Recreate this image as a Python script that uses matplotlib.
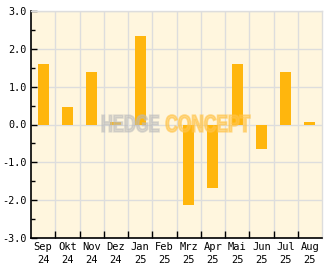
import matplotlib
matplotlib.use("Agg")
import matplotlib.pyplot as plt
from matplotlib.ticker import MultipleLocator, FixedLocator
from matplotlib.textpath import TextPath
from matplotlib.patches import PathPatch
from matplotlib.font_manager import FontProperties
from matplotlib.transforms import Affine2D, IdentityTransform
import numpy as np

# monthly values
months = ["Sep\n24", "Okt\n24", "Nov\n24", "Dez\n24", "Jan\n25", "Feb\n25",
          "Mrz\n25", "Apr\n25", "Mai\n25", "Jun\n25", "Jul\n25", "Aug\n25"]
values = [1.60, 0.46, 1.39, 0.07, 2.34, 0.0,
          -2.13, -1.67, 1.60, -0.64, 1.39, 0.07]

bar_color = "#FFB60D"
bg_color = "#FFF6DE"
grid_color = "#DDDDDD"

fig = plt.figure(figsize=(3.32, 2.69), dpi=100)
ax = fig.add_axes([31 / 332, 31 / 269, 291 / 332, 227 / 269])
ax.set_facecolor(bg_color)

x = np.arange(len(months))
ax.bar(x, values, width=0.45, color=bar_color, zorder=3)

ax.set_xlim(-0.5, len(months) - 0.5)
ax.set_ylim(-3, 3)

# x: labels at centers, ticks/grid at boundaries
ax.set_xticks(x)
ax.set_xticklabels(months, family="DejaVu Sans Mono", fontsize=7.5, linespacing=1.3)
ax.xaxis.set_minor_locator(FixedLocator(np.arange(0.5, len(months) - 0.5, 1)))
ax.tick_params(axis="x", which="major", length=0, pad=3)
ax.tick_params(axis="x", which="minor", direction="in", length=5, width=1, color="black")

ax.yaxis.set_minor_locator(MultipleLocator(0.5))
ax.set_yticks(np.arange(-3, 3.1, 1))
ax.set_yticklabels(["%.1f" % v for v in np.arange(-3, 3.1, 1)],
                   family="DejaVu Sans Mono", fontsize=7.3)
ax.tick_params(axis="y", which="major", direction="in", length=4, width=1, pad=3)
ax.tick_params(axis="y", which="minor", direction="in", length=3, width=1)

ax.grid(True, which="major", axis="y", color=grid_color, linewidth=1, zorder=1)
ax.grid(True, which="minor", axis="x", color=grid_color, linewidth=1, zorder=1)

for s in ["top", "right"]:
    ax.spines[s].set_color(grid_color)
    ax.spines[s].set_linewidth(1)
for s in ["left", "bottom"]:
    ax.spines[s].set_color("black")
    ax.spines[s].set_linewidth(1.2)


# watermark: heavy condensed text squeezed into a pixel box
def watermark(word, x0, x1, y0, y1, color, alpha):
    fp = FontProperties(family="Liberation Sans", weight="bold")
    tp = TextPath((0, 0), word, size=30, prop=fp)
    ext = tp.get_extents()
    sx = (x1 - x0) / ext.width
    sy = (y1 - y0) / ext.height
    tr = Affine2D().translate(-ext.x0, -ext.y0).scale(sx, sy).translate(x0, 269 - y1)
    patch = PathPatch(tr.transform_path(tp), facecolor=color, edgecolor=color,
                      linewidth=1.2, alpha=alpha, transform=IdentityTransform(), zorder=4)
    fig.add_artist(patch)


watermark("HEDGE", 102, 159, 115, 132, "#BBBBBB", 0.5)
watermark("CONCEPT", 166, 250, 115, 132, "#FFC44A", 0.6)

fig.savefig("out.png", dpi=100, facecolor="white")
